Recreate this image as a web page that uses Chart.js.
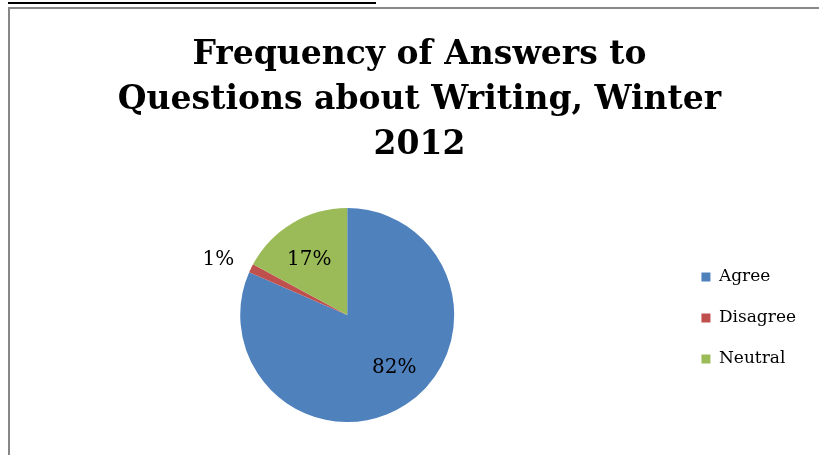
<!DOCTYPE html>
<html>
<head>
<meta charset="utf-8">
<script src="https://cdn.jsdelivr.net/npm/chart.js@4.4.0/dist/chart.umd.min.js"></script>
<style>
  html, body { margin: 0; padding: 0; background: #fff; overflow: hidden; }
  body { width: 819px; height: 455px; position: relative; }
  .rule { position: absolute; left: 8px; top: 2px; width: 368px; height: 2px; background: #000; }
  .frame { position: absolute; left: 8px; top: 7px; width: 840px; height: 470px; border: 2px solid #878787; box-sizing: border-box; }
  .wrap { position: absolute; left: 10px; top: 9px; width: 836px; height: 446px; }
</style>
</head>
<body>
<div class="rule"></div>
<div class="frame"></div>
<div class="wrap"><canvas id="myChart"></canvas></div>
<script>
const categories = ['Agree', 'Disagree', 'Neutral']
const shares = [81.55, 1.3, 17.15]
const colors = ['#4F81BD', '#C0504D', '#9BBB59']
const titleLines = ['Frequency of Answers to', 'Questions about Writing, Winter', '2012']

const serif = "'DejaVu Serif', 'Liberation Serif', serif"

// percent labels, the tiny slice goes outside
const labelTurn = [-0.15, -0.05, -0.06]
const pctLabels = {
  id: 'pctLabels',
  afterDatasetsDraw(chart) {
    const ctx = chart.ctx
    const meta = chart.getDatasetMeta(0)
    const total = shares.reduce((a, b) => a + b, 0)
    ctx.save()
    ctx.font = '20px ' + serif
    ctx.fillStyle = '#000'
    ctx.textAlign = 'center'
    ctx.textBaseline = 'middle'
    meta.data.forEach((arc, i) => {
      const pct = shares[i] / total
      const mid = (arc.startAngle + arc.endAngle) / 2 + labelTurn[i]
      const k = pct < 0.05 ? 1.31 : (i == 0 ? 0.66 : 0.63)
      const x = arc.x + Math.cos(mid) * arc.outerRadius * k
      const y = arc.y + Math.sin(mid) * arc.outerRadius * k
      ctx.fillText(Math.round(pct * 100) + '%', x, y)
    })
    ctx.restore()
  }
}

// legend centred on the pie, title nudged to the middle of the frame
const nudge = {
  id: 'nudge',
  afterLayout(chart) {
    const l = chart.legend
    l.top = chart.chartArea.top + 3
    l.bottom = chart.chartArea.bottom + 3
    l.height = l.bottom - l.top
    const t = chart.titleBlock
    t.left += 8
    t.right += 8
  }
}

new Chart(document.getElementById('myChart'), {
  type: 'pie',
  data: {
    labels: categories,
    datasets: [{
      data: shares,
      backgroundColor: colors,
      borderWidth: 0
    }]
  },
  options: {
    responsive: true,
    maintainAspectRatio: false,
    animation: false,
    layout: { padding: { top: 0, bottom: 33, left: 7, right: 40 } },
    plugins: {
      title: {
        display: true,
        text: titleLines,
        color: '#000',
        font: { family: serif, size: 33, weight: 'bold', lineHeight: 1.364 },
        padding: { top: 24, bottom: 40 }
      },
      legend: {
        position: 'right',
        labels: {
          color: '#000',
          boxWidth: 9,
          boxHeight: 9,
          padding: 24,
          font: { family: serif, size: 17 }
        }
      },
      tooltip: { enabled: false }
    }
  },
  plugins: [pctLabels, nudge]
})
</script>
</body>
</html>
